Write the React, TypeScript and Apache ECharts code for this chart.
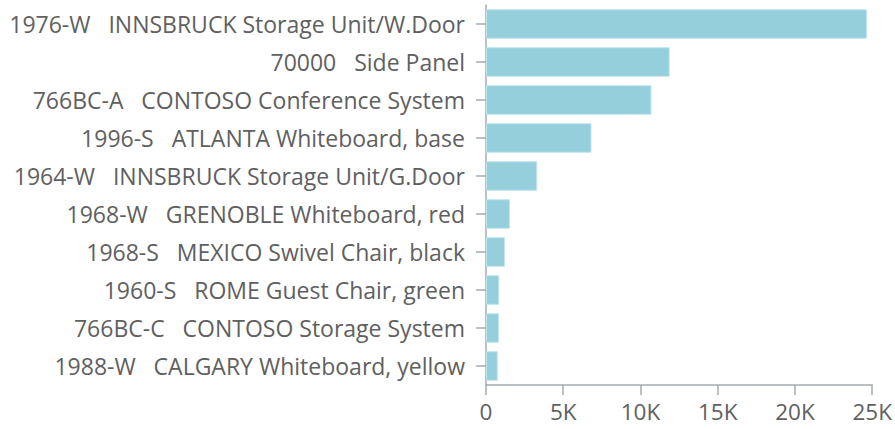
import React, { useEffect, useRef } from "react";
import * as echarts from "echarts";

const categories = [
  "1976-W   INNSBRUCK Storage Unit/W.Door",
  "70000   Side Panel",
  "766BC-A   CONTOSO Conference System",
  "1996-S   ATLANTA Whiteboard, base",
  "1964-W   INNSBRUCK Storage Unit/G.Door",
  "1968-W   GRENOBLE Whiteboard, red",
  "1968-S   MEXICO Swivel Chair, black",
  "1960-S   ROME Guest Chair, green",
  "766BC-C   CONTOSO Storage System",
  "1988-W   CALGARY Whiteboard, yellow",
];
const values = [24670, 11890, 10710, 6830, 3320, 1550, 1230, 860, 840, 760];
const xMin = 0;
const xMax = 25000;
const xInterval = 5000;

export default function App() {
  const ref = useRef<HTMLDivElement>(null);
  useEffect(() => {
    if (!ref.current) return;
    const chart = echarts.init(ref.current, null, { renderer: "svg" });
    const font = "'Open Sans', 'Noto Sans', sans-serif";
    chart.setOption({
      animation: false,
      grid: { left: 486, right: 22, top: 5, bottom: 44, containLabel: false },
      xAxis: {
        type: "value",
        min: xMin,
        max: xMax,
        interval: xInterval,
        axisLine: { show: true, lineStyle: { color: "#A3ABB0", width: 1.5 } },
        axisTick: { show: true, length: 10, lineStyle: { color: "#A3ABB0", width: 1.5 } },
        splitLine: { show: false },
        axisLabel: {
          color: "#606060",
          fontFamily: font,
          fontSize: 22.5,
          margin: 15,
          formatter: (v: number) => (v === 0 ? "0" : v / 1000 + "K"),
        },
      },
      yAxis: {
        type: "category",
        data: categories,
        inverse: true,
        axisLine: { show: true, lineStyle: { color: "#A3ABB0", width: 1.5 } },
        axisTick: { show: true, length: 10, alignWithLabel: true, lineStyle: { color: "#A3ABB0", width: 1.5 } },
        axisLabel: {
          color: "#606060",
          fontFamily: font,
          fontSize: 23,
          margin: 21,
        },
      },
      series: [
        {
          type: "bar",
          data: values,
          barCategoryGap: "22%",
          itemStyle: { color: "#95CFDC", borderColor: "#C4E6EE", borderWidth: 1 },
        },
      ],
    });
    return () => chart.dispose();
  }, []);
  return (
    <div
      ref={ref}
      style={{ position: "absolute", left: 0, top: 0, width: 895, height: 429 }}
    />
  );
}
